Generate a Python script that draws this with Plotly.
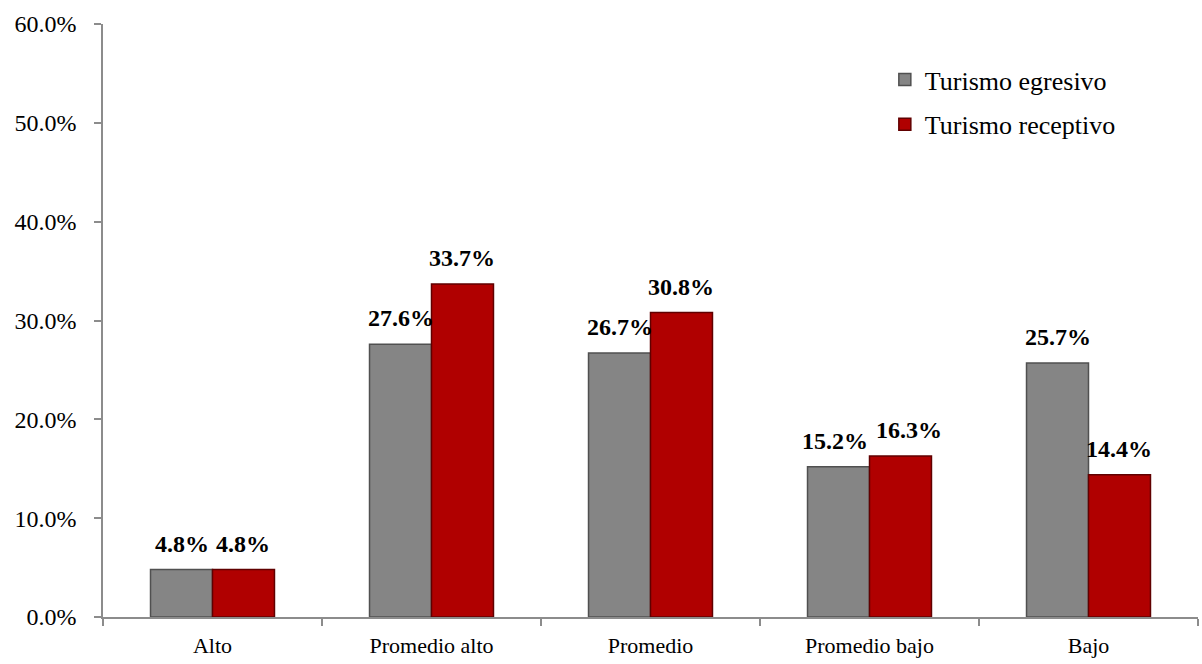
import plotly.graph_objects as go

categories = ["Alto", "Promedio alto", "Promedio", "Promedio bajo", "Bajo"]
egresivo = [4.8, 27.6, 26.7, 15.2, 25.7]
receptivo = [4.8, 33.7, 30.8, 16.3, 14.4]
series_names = ["Turismo egresivo", "Turismo receptivo"]
y_ticks = [0, 10, 20, 30, 40, 50, 60]
y_tick_labels = ["0.0%", "10.0%", "20.0%", "30.0%", "40.0%", "50.0%", "60.0%"]

font_family = "Liberation Serif, Times New Roman, serif"

fig = go.Figure()
fig.add_trace(go.Bar(
    x=categories, y=egresivo, name=series_names[0], legendgroup="a",
    marker=dict(color="#858585", line=dict(color="#505050", width=1.5)),
))
fig.add_trace(go.Bar(
    x=categories, y=receptivo, name=series_names[1], legendgroup="b",
    marker=dict(color="#B00000", line=dict(color="#600000", width=1.5)),
))

half = 0.1415
annotations = []
for i, (a, b) in enumerate(zip(egresivo, receptivo)):
    # nudge apart labels of neighbouring bars when they would touch
    crowd = abs(a - b) < 3 and a > 10
    for xv, v, nudge in ((i - half, a, -4 if crowd else 0), (i + half, b, 9 if crowd else 0)):
        annotations.append(dict(
            x=xv, y=v, xref="x", yref="y", text=f"<b>{v:.1f}%</b>",
            showarrow=False, yanchor="bottom", yshift=11, xshift=nudge,
            font=dict(family=font_family, size=24, color="black"),
        ))

fig.update_layout(
    width=1202, height=664,
    margin=dict(l=103, r=4, t=24, b=47),
    paper_bgcolor="white", plot_bgcolor="white",
    barmode="group", bargap=0.434, bargroupgap=0,
    font=dict(family=font_family, size=22, color="black"),
    legend=dict(x=0.714, y=0.946, xanchor="left", yanchor="top",
                font=dict(family=font_family, size=26, color="black"),
                itemwidth=30, tracegroupgap=8, bgcolor="rgba(0,0,0,0)"),
    annotations=annotations,
    showlegend=True,
)
fig.update_yaxes(
    range=[0, 60], tickvals=y_ticks, ticktext=y_tick_labels, automargin=False,
    showgrid=False, zeroline=False, showline=True, linecolor="#8c8c8c", linewidth=1.5,
    ticks="outside", ticklen=7, tickcolor="#8c8c8c", tickwidth=1.5,
    ticklabelstandoff=13, tickfont=dict(family=font_family, size=24),
)
fig.update_xaxes(
    automargin=False,
    showgrid=False, showline=True, linecolor="#8c8c8c", linewidth=1.5,
    ticks="outside", ticklen=7, tickcolor="#8c8c8c", tickwidth=1.5,
    tickson="boundaries", ticklabelstandoff=8, tickfont=dict(family=font_family, size=22),
)

fig.write_html("out.html")
